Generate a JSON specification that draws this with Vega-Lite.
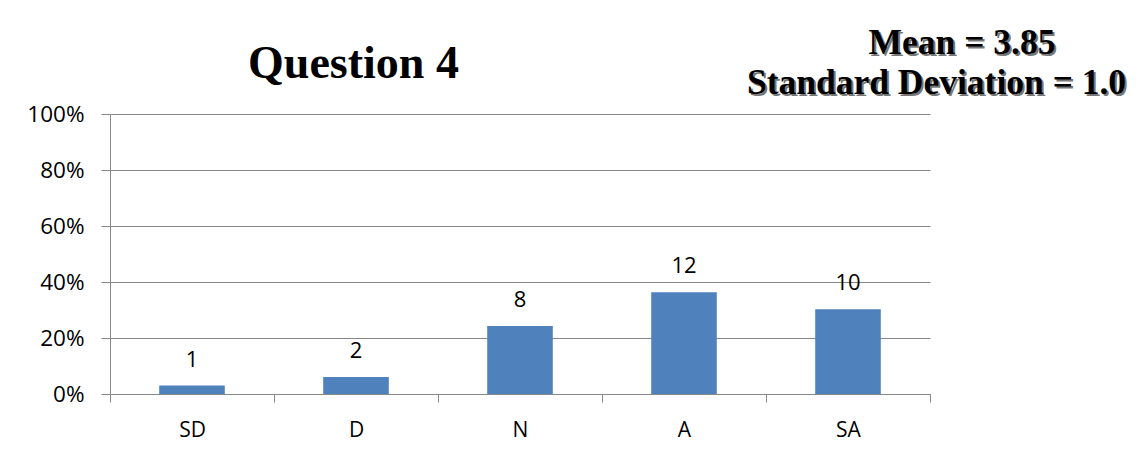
{
  "$schema": "https://vega.github.io/schema/vega-lite/v6.json",
  "width": 820,
  "height": 280,
  "autosize": {"type": "none"},
  "padding": {"left": 110, "top": 114, "right": 209, "bottom": 63},
  "background": "white",
  "config": {
    "view": {"stroke": null},
    "font": "Open Sans"
  },
  "title": {
    "text": "Question 4",
    "anchor": "start",
    "frame": "group",
    "align": "center",
    "baseline": "alphabetic",
    "dx": 243.5,
    "offset": -99,
    "font": "Liberation Serif",
    "fontSize": 46,
    "fontWeight": "bold",
    "color": "#000000"
  },
  "data": {
    "values": [
      {"response": "SD", "count": 1},
      {"response": "D", "count": 2},
      {"response": "N", "count": 8},
      {"response": "A", "count": 12},
      {"response": "SA", "count": 10}
    ]
  },
  "layer": [
    {
      "mark": {"type": "bar", "width": {"band": 0.4}, "color": "#4F81BD"},
      "encoding": {
        "x": {
          "field": "response",
          "type": "nominal",
          "sort": ["SD", "D", "N", "A", "SA"],
          "scale": {"paddingInner": 0, "paddingOuter": 0},
          "axis": {
            "orient": "bottom",
            "labelAngle": 0,
            "labelFontSize": 21,
            "labelColor": "#000000",
            "labelPadding": 17,
            "tickBand": "extent",
            "tickSize": 8,
            "tickColor": "#888888",
            "domainColor": "#888888",
            "grid": false,
            "title": "Mean = 3.85",
            "titleFont": "Liberation Serif",
            "titleFontSize": 35.5,
            "titleFontWeight": "bold",
            "titleColor": "#4a4a4a",
            "titleOpacity": 0.75,
            "titleAngle": 0,
            "titleAlign": "center",
            "titleBaseline": "alphabetic",
            "titleX": 853.5,
            "titleY": -339
          }
        },
        "y": {
          "field": "count",
          "type": "quantitative",
          "scale": {"domain": [0, 33], "nice": false},
          "axis": {
            "orient": "left",
            "values": [0, 6.6, 13.2, 19.8, 26.4, 33],
            "labelExpr": "format(datum.value / 33, '.0%')",
            "labelFontSize": 22.5,
            "labelColor": "#000000",
            "labelPadding": 17,
            "tickSize": 9,
            "tickColor": "#888888",
            "domainColor": "#888888",
            "grid": true,
            "gridColor": "#888888",
            "gridOpacity": 1,
            "title": "Mean = 3.85",
            "titleFont": "Liberation Serif",
            "titleFontSize": 35.5,
            "titleFontWeight": "bold",
            "titleColor": "#000000",
            "titleAngle": 0,
            "titleAlign": "center",
            "titleBaseline": "alphabetic",
            "titleX": 851.5,
            "titleY": -61
          }
        }
      }
    },
    {
      "mark": {"type": "text", "dy": -19, "baseline": "alphabetic", "fontSize": 22, "color": "#000000"},
      "encoding": {
        "x": {
          "field": "response",
          "type": "nominal",
          "sort": ["SD", "D", "N", "A", "SA"],
          "axis": {
            "orient": "top",
            "domain": false,
            "ticks": false,
            "labels": false,
            "grid": false,
            "title": "Standard Deviation = 1.0",
            "titleFont": "Liberation Serif",
            "titleFontSize": 35.5,
            "titleFontWeight": "bold",
            "titleColor": "#4a4a4a",
            "titleOpacity": 0.75,
            "titleAngle": 0,
            "titleAlign": "center",
            "titleBaseline": "alphabetic",
            "titleX": 828,
            "titleY": -19
          }
        },
        "y": {
          "field": "count",
          "type": "quantitative",
          "axis": {
            "orient": "right",
            "domain": false,
            "ticks": false,
            "labels": false,
            "grid": false,
            "title": "Standard Deviation = 1.0",
            "titleFont": "Liberation Serif",
            "titleFontSize": 35.5,
            "titleFontWeight": "bold",
            "titleColor": "#000000",
            "titleAngle": 0,
            "titleAlign": "center",
            "titleBaseline": "alphabetic",
            "titleX": 6,
            "titleY": -21
          }
        },
        "text": {"field": "count", "type": "quantitative"}
      }
    }
  ],
  "resolve": {"axis": {"x": "independent", "y": "independent"}}
}
